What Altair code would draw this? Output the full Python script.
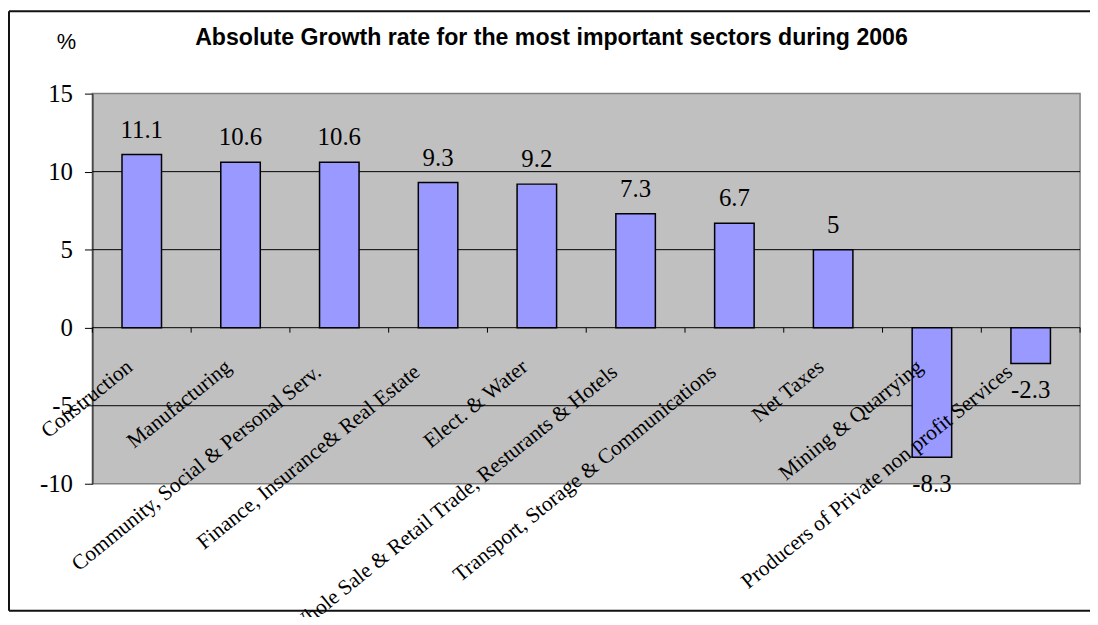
import altair as alt
import pandas as pd

# ---- data ----
sectors = [
    "Construction",
    "Manufacturing",
    "Community, Social & Personal Serv.",
    "Finance, Insurance& Real Estate",
    "Elect. & Water",
    "Whole Sale & Retail Trade, Resturants & Hotels",
    "Transport, Storage & Communications",
    "Net Taxes",
    "Mining & Quarrying",
    "Producers of Private non profit Services",
]
growth = [11.1, 10.6, 10.6, 9.3, 9.2, 7.3, 6.7, 5, -8.3, -2.3]
y_ticks = [-10, -5, 0, 5, 10, 15]
grid_values = [-5, 0, 5, 10]
title_text = "Absolute Growth rate for  the most important sectors during 2006"
unit_label = "%"

df = pd.DataFrame({
    "sector": sectors,
    "growth": growth,
    "label": [f"{v:g}" for v in growth],
})
bounds = pd.DataFrame({"b": list(range(len(sectors) + 1))})
grid_df = pd.DataFrame({"g": grid_values})

W, H = 995, 393
serif = "Liberation Serif"
sans = "Liberation Sans"

xband = alt.X("sector:N", sort=sectors, axis=None,
              scale=alt.Scale(paddingInner=0.6, paddingOuter=0.3))
yscale = alt.Scale(domain=[-10, 15], nice=False, zero=False)
yaxis = alt.Axis(
    title=None, values=y_ticks, labelExpr="toString(datum.value)",
    labelFont=serif, labelFontSize=25,
    labelColor="black", labelPadding=12, tickSize=8, tickColor="black",
    domainColor="#404040", domainWidth=1.5, grid=False,
)

base = alt.Chart(df)

grid = alt.Chart(grid_df).mark_rule(color="black", strokeWidth=1).encode(
    y=alt.Y("g:Q", scale=yscale, axis=yaxis),
)

bars = base.mark_bar(color="#9999FF", stroke="black", strokeWidth=1.5).encode(
    x=xband,
    y=alt.Y("growth:Q", scale=yscale, axis=yaxis),
)

pos_labels = base.transform_filter("datum.growth >= 0").mark_text(
    font=serif, fontSize=25, color="black", align="center",
    baseline="alphabetic", dy=-17,
).encode(x=xband, y=alt.Y("growth:Q", scale=yscale, axis=yaxis), text="label:N")

neg_labels = base.transform_filter("datum.growth < 0").mark_text(
    font=serif, fontSize=25, color="black", align="center",
    baseline="alphabetic", dy=35,
).encode(x=xband, y=alt.Y("growth:Q", scale=yscale, axis=yaxis), text="label:N")

cat_short = base.transform_filter("length(datum.sector) < 25").mark_text(
    font=serif, fontSize=21.5, color="black", align="right",
    baseline="alphabetic", angle=321, dx=-32.6, dy=27.6,
).encode(x=xband, y=alt.datum(0, scale=yscale, axis=yaxis), text="sector:N")

cat_long = base.transform_filter("length(datum.sector) >= 25").mark_text(
    font=serif, fontSize=21.5, color="black", align="right",
    baseline="alphabetic", angle=321, dx=-42.8, dy=25.8,
).encode(x=xband, y=alt.datum(0, scale=yscale, axis=yaxis), text="sector:N")

main = alt.layer(grid, bars, cat_short, cat_long, pos_labels, neg_labels)

ticks = alt.Chart(bounds).mark_rule(color="black", strokeWidth=1, y2Offset=5).encode(
    x=alt.X("b:Q", axis=None,
            scale=alt.Scale(domain=[0, len(sectors)], nice=False, zero=False)),
    y=alt.datum(0, scale=yscale, axis=yaxis),
    y2=alt.datum(0),
)

title = alt.Chart(pd.DataFrame({"t": [title_text]})).mark_text(
    font=sans, fontSize=23.3, fontWeight="bold", color="black",
    align="center", baseline="alphabetic",
).encode(x=alt.value(462.5), y=alt.value(-49), text="t:N")

unit = alt.Chart(pd.DataFrame({"t": [unit_label]})).mark_text(
    font=sans, fontSize=22, color="black", align="left", baseline="alphabetic",
).encode(x=alt.value(-36), y=alt.value(-45), text="t:N")

one = pd.DataFrame({"t": [0]})
frame_top = alt.Chart(one).mark_rule(color="#111111", strokeWidth=2).encode(
    x=alt.value(-84), x2=alt.value(1030), y=alt.value(-83))
frame_bottom = alt.Chart(one).mark_rule(color="#111111", strokeWidth=2).encode(
    x=alt.value(-84), x2=alt.value(1030), y=alt.value(521))
frame_left = alt.Chart(one).mark_rule(color="#111111", strokeWidth=2).encode(
    x=alt.value(-84), y=alt.value(-83), y2=alt.value(521))

chart = alt.layer(
    frame_top, frame_bottom, frame_left, main, ticks, title, unit
).resolve_scale(x="independent").properties(
    width=W, height=H, autosize="none",
    padding={"left": 85, "top": 84, "right": 10, "bottom": 132},
    background="white",
).configure_view(
    fill="#C0C0C0", stroke="#808080", strokeWidth=1.5
)

chart.save("out.html", embed_options={"renderer": "svg", "actions": False})
